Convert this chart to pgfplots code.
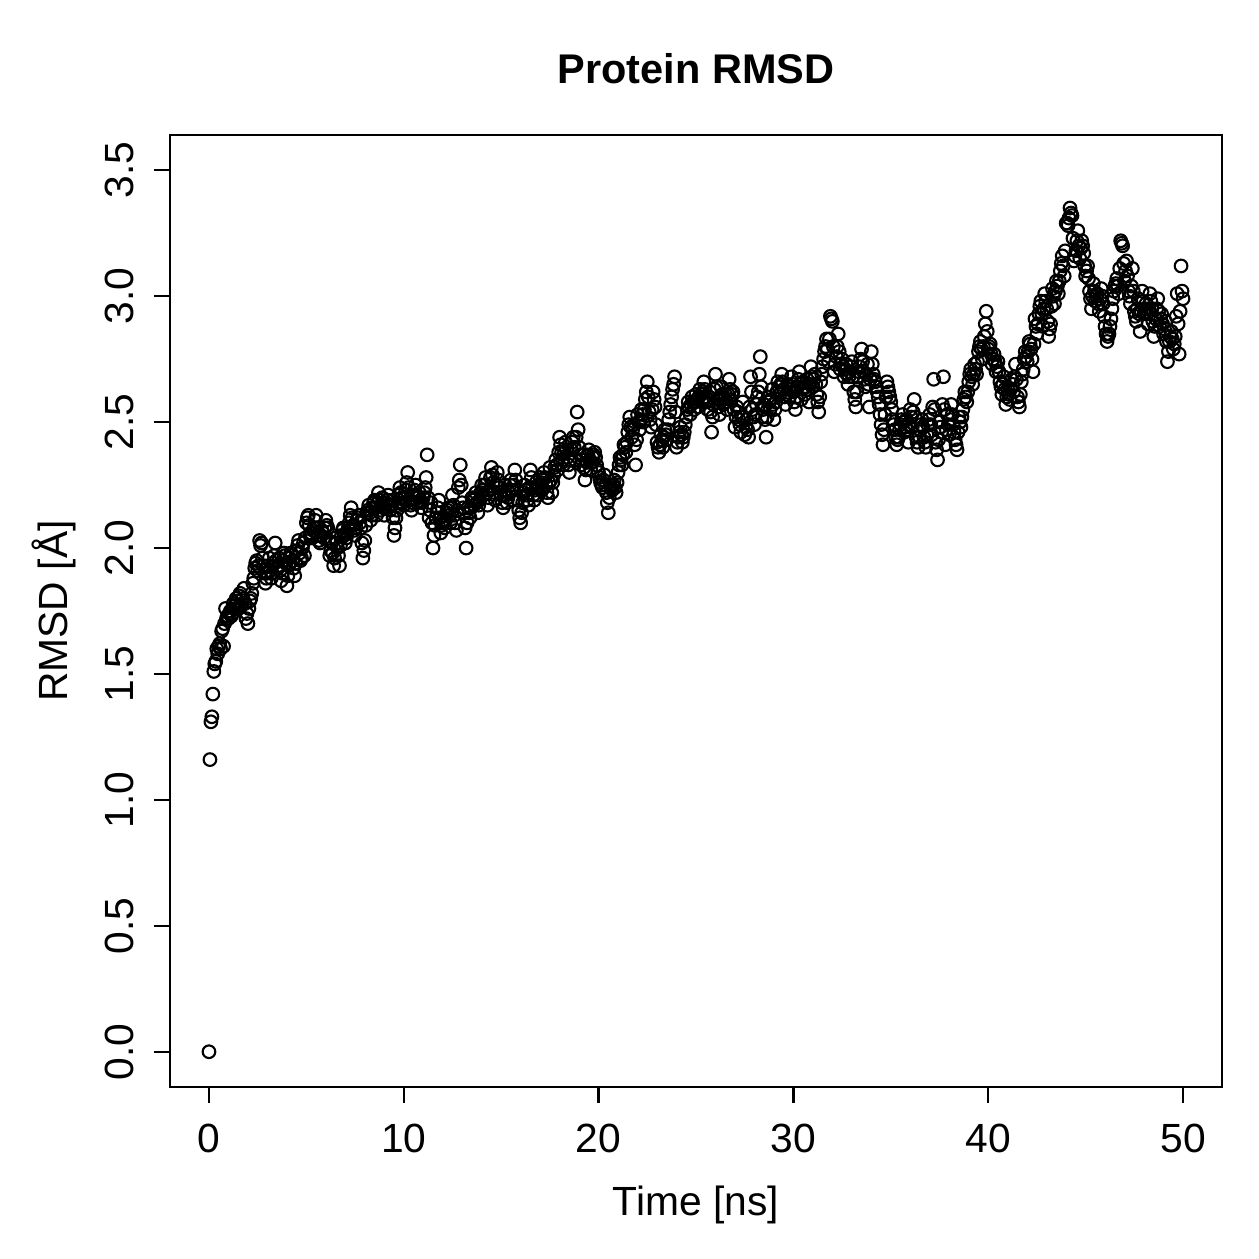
\documentclass[border=0pt]{standalone}
\usepackage{fontspec}
\setmainfont{Liberation Sans}
\usepackage{pgfplots}
\pgfplotsset{compat=1.18}
\begin{document}
\begin{tikzpicture}
\path (-17mm,-17.2mm) rectangle (108.9mm,108.7mm);
\begin{axis}[
  at={(0,0)}, anchor=south west, scale only axis,
  width=105.2mm, height=95.2mm,
  xmin=-2, xmax=52, ymin=-0.14, ymax=3.64,
  clip=false,
  xtick={0,10,20,30,40,50}, ytick={0,0.5,1,1.5,2,2.5,3,3.5},
  xtick pos=left, ytick pos=left,
  tick align=outside, major tick length=1.6mm,
  axis line style={black, line width=0.7pt},
  tick style={black, line width=0.7pt},
  font=\fontsize{11.6}{13}\selectfont,
  /pgf/number format/assume math mode=true,
  xticklabel style={anchor=base, yshift=-4.9mm},
  yticklabel style={xshift=-2.0mm, rotate=90, anchor=base, /pgf/number format/.cd, fixed, fixed zerofill, precision=1},
  title={Protein RMSD},
  title style={font=\fontsize{11.8}{14}\selectfont\bfseries, at={(axis description cs:0.5,1.0315)}, anchor=base},
  xlabel={Time [ns]},
  xlabel style={at={(axis description cs:0.5,-0.1345)}, anchor=base},
  ylabel={RMSD [Å]},
  ylabel style={at={(axis description cs:-0.097,0.5)}, anchor=base, rotate=0},
  tk/.style={black, line width=0.7pt, no markers, forget plot},
]
% tick marks drawn through the axis coordinates
\addplot[tk] coordinates {(0,-0.14) (0,-0.2035)};
\addplot[tk] coordinates {(10,-0.14) (10,-0.2035)};
\addplot[tk] coordinates {(20,-0.14) (20,-0.2035)};
\addplot[tk] coordinates {(30,-0.14) (30,-0.2035)};
\addplot[tk] coordinates {(40,-0.14) (40,-0.2035)};
\addplot[tk] coordinates {(50,-0.14) (50,-0.2035)};
\addplot[tk] coordinates {(-2,0) (-2.821,0)};
\addplot[tk] coordinates {(-2,0.5) (-2.821,0.5)};
\addplot[tk] coordinates {(-2,1) (-2.821,1)};
\addplot[tk] coordinates {(-2,1.5) (-2.821,1.5)};
\addplot[tk] coordinates {(-2,2) (-2.821,2)};
\addplot[tk] coordinates {(-2,2.5) (-2.821,2.5)};
\addplot[tk] coordinates {(-2,3) (-2.821,3)};
\addplot[tk] coordinates {(-2,3.5) (-2.821,3.5)};
\addplot[only marks, mark=o, mark size=1.8pt, mark options={line width=0.6pt, black}] coordinates {
(0,0) (0.05,1.16) (0.1,1.31) (0.15,1.33) (0.2,1.42) (0.25,1.51) (0.3,1.54) (0.35,1.55) (0.4,1.60) (0.45,1.58)
(0.5,1.61) (0.55,1.62) (0.6,1.60) (0.65,1.67) (0.7,1.68) (0.75,1.61) (0.8,1.70) (0.85,1.76) (0.9,1.72) (0.95,1.73)
(1.0,1.72) (1.1,1.75) (1.2,1.74) (1.3,1.77) (1.4,1.80) (1.5,1.76) (1.6,1.82) (1.7,1.78) (1.8,1.84) (1.9,1.72)
(2.0,1.70) (2.1,1.79) (2.2,1.82) (2.3,1.88) (2.4,1.94) (2.5,1.91) (2.6,2.03) (2.7,2.02) (2.8,1.93) (2.9,1.86)
(3.0,1.90) (3.1,1.96) (3.2,1.88) (3.3,1.94) (3.4,2.02) (3.5,1.92) (3.6,1.96) (3.7,1.87) (3.8,1.95) (3.9,1.97)
(4.0,1.85) (4.1,1.93) (4.2,1.98) (4.3,1.95) (4.4,1.89) (4.5,1.99) (4.6,2.03) (4.7,1.95) (4.8,2.00) (4.9,1.97)
(5.0,2.10) (5.1,2.13) (5.2,2.06) (5.3,2.04) (5.4,2.08) (5.5,2.13) (5.6,2.05) (5.7,2.02) (5.8,2.07) (5.9,2.04)
(6.0,2.11) (6.1,2.08) (6.2,1.97) (6.3,2.02) (6.4,1.93) (6.5,2.04) (6.6,2.00) (6.7,1.93) (6.8,2.05) (6.9,2.08)
(7.0,2.02) (7.1,2.06) (7.2,2.10) (7.3,2.16) (7.4,2.09) (7.5,2.05) (7.6,2.11) (7.7,2.13) (7.8,2.08) (7.9,1.96)
(8.0,2.03) (8.1,2.14) (8.2,2.17) (8.3,2.11) (8.4,2.16) (8.5,2.19) (8.6,2.13) (8.7,2.22) (8.8,2.15) (8.9,2.20)
(9.0,2.13) (9.1,2.18) (9.2,2.21) (9.3,2.15) (9.4,2.19) (9.5,2.05) (9.6,2.12) (9.7,2.18) (9.8,2.24) (9.9,2.20)
(10.0,2.17) (10.1,2.23) (10.2,2.30) (10.3,2.19) (10.4,2.15) (10.5,2.21) (10.6,2.25) (10.7,2.18) (10.8,2.22) (10.9,2.16)
(11.0,2.20) (11.1,2.24) (11.2,2.37) (11.3,2.12) (11.4,2.18) (11.5,2.00) (11.6,2.09) (11.7,2.14) (11.8,2.19) (11.9,2.06)
(12.0,2.11) (12.1,2.08) (12.2,2.14) (12.3,2.16) (12.4,2.10) (12.5,2.21) (12.6,2.13) (12.7,2.07) (12.8,2.24) (12.9,2.33)
(13.0,2.18) (13.1,2.14) (13.2,2.00) (13.3,2.16) (13.4,2.12) (13.5,2.20) (13.6,2.17) (13.7,2.22) (13.8,2.14) (13.9,2.19)
(14.0,2.25) (14.1,2.21) (14.2,2.28) (14.3,2.17) (14.4,2.23) (14.5,2.32) (14.6,2.26) (14.7,2.19) (14.8,2.30) (14.9,2.24)
(15.0,2.21) (15.1,2.16) (15.2,2.25) (15.3,2.18) (15.4,2.22) (15.5,2.27) (15.6,2.19) (15.7,2.31) (15.8,2.23) (15.9,2.15)
(16.0,2.10) (16.1,2.18) (16.2,2.25) (16.3,2.21) (16.4,2.17) (16.5,2.31) (16.6,2.24) (16.7,2.19) (16.8,2.26) (16.9,2.21)
(17.0,2.28) (17.1,2.23) (17.2,2.30) (17.3,2.25) (17.4,2.20) (17.5,2.32) (17.6,2.22) (17.7,2.29) (17.8,2.35) (17.9,2.31)
(18.0,2.44) (18.1,2.38) (18.2,2.33) (18.3,2.42) (18.4,2.36) (18.5,2.30) (18.6,2.39) (18.7,2.44) (18.8,2.35) (18.9,2.54)
(19.0,2.40) (19.1,2.33) (19.2,2.37) (19.3,2.27) (19.4,2.34) (19.5,2.39) (19.6,2.31) (19.7,2.36) (19.8,2.38) (19.9,2.33)
(20.0,2.30) (20.1,2.26) (20.2,2.24) (20.3,2.29) (20.4,2.22) (20.5,2.14) (20.6,2.25) (20.7,2.23) (20.8,2.27) (20.9,2.22)
(21.0,2.30) (21.1,2.36) (21.2,2.33) (21.3,2.41) (21.4,2.38) (21.5,2.46) (21.6,2.52) (21.7,2.44) (21.8,2.49) (21.9,2.33)
(22.0,2.53) (22.1,2.47) (22.2,2.55) (22.3,2.50) (22.4,2.59) (22.5,2.66) (22.6,2.54) (22.7,2.48) (22.8,2.62) (22.9,2.56)
(23.0,2.42) (23.1,2.38) (23.2,2.45) (23.3,2.40) (23.4,2.47) (23.5,2.43) (23.6,2.51) (23.7,2.57) (23.8,2.63) (23.9,2.68)
(24.0,2.40) (24.1,2.44) (24.2,2.48) (24.3,2.42) (24.4,2.46) (24.5,2.52) (24.6,2.58) (24.7,2.53) (24.8,2.60) (24.9,2.55)
(25.0,2.61) (25.1,2.56) (25.2,2.63) (25.3,2.58) (25.4,2.66) (25.5,2.60) (25.6,2.55) (25.7,2.62) (25.8,2.46) (25.9,2.57)
(26.0,2.69) (26.1,2.59) (26.2,2.53) (26.3,2.64) (26.4,2.57) (26.5,2.61) (26.6,2.55) (26.7,2.67) (26.8,2.59) (26.9,2.62)
(27.0,2.48) (27.1,2.56) (27.2,2.51) (27.3,2.46) (27.4,2.58) (27.5,2.45) (27.6,2.51) (27.7,2.44) (27.8,2.68) (27.9,2.55)
(28.0,2.49) (28.1,2.57) (28.2,2.62) (28.3,2.76) (28.4,2.52) (28.5,2.57) (28.6,2.44) (28.7,2.60) (28.8,2.55) (28.9,2.63)
(29.0,2.51) (29.1,2.58) (29.2,2.66) (29.3,2.61) (29.4,2.69) (29.5,2.63) (29.6,2.57) (29.7,2.65) (29.8,2.60) (29.9,2.68)
(30.0,2.62) (30.1,2.55) (30.2,2.64) (30.3,2.70) (30.4,2.59) (30.5,2.66) (30.6,2.61) (30.7,2.67) (30.8,2.58) (30.9,2.72)
(31.0,2.64) (31.1,2.69) (31.2,2.61) (31.3,2.54) (31.4,2.66) (31.5,2.72) (31.6,2.78) (31.7,2.83) (31.8,2.74) (31.9,2.92)
(32.0,2.90) (32.1,2.70) (32.2,2.76) (32.3,2.85) (32.4,2.71) (32.5,2.75) (32.6,2.68) (32.7,2.73) (32.8,2.65) (32.9,2.70)
(33.0,2.74) (33.1,2.62) (33.2,2.56) (33.3,2.68) (33.4,2.72) (33.5,2.79) (33.6,2.70) (33.7,2.64) (33.8,2.73) (33.9,2.56)
(34.0,2.78) (34.1,2.69) (34.2,2.66) (34.3,2.62) (34.4,2.57) (34.5,2.49) (34.6,2.41) (34.7,2.53) (34.8,2.66) (34.9,2.62)
(35.0,2.58) (35.1,2.51) (35.2,2.47) (35.3,2.41) (35.4,2.44) (35.5,2.49) (35.6,2.53) (35.7,2.46) (35.8,2.51) (35.9,2.42)
(36.0,2.55) (36.1,2.48) (36.2,2.59) (36.3,2.44) (36.4,2.40) (36.5,2.47) (36.6,2.51) (36.7,2.44) (36.8,2.40) (36.9,2.49)
(37.0,2.53) (37.1,2.45) (37.2,2.67) (37.3,2.42) (37.4,2.35) (37.5,2.50) (37.6,2.46) (37.7,2.68) (37.8,2.41) (37.9,2.53)
(38.0,2.45) (38.1,2.57) (38.2,2.49) (38.3,2.43) (38.4,2.39) (38.5,2.52) (38.6,2.48) (38.7,2.55) (38.8,2.62) (38.9,2.58)
(39.0,2.66) (39.1,2.71) (39.2,2.65) (39.3,2.73) (39.4,2.69) (39.5,2.78) (39.6,2.82) (39.7,2.75) (39.8,2.84) (39.9,2.94)
(40.0,2.79) (40.1,2.81) (40.2,2.73) (40.3,2.77) (40.4,2.70) (40.5,2.74) (40.6,2.66) (40.7,2.61) (40.8,2.68) (40.9,2.57)
(41.0,2.63) (41.1,2.59) (41.2,2.67) (41.3,2.62) (41.4,2.73) (41.5,2.60) (41.6,2.56) (41.7,2.66) (41.8,2.71) (41.9,2.78)
(42.0,2.74) (42.1,2.82) (42.2,2.79) (42.3,2.70) (42.4,2.91) (42.5,2.85) (42.6,2.93) (42.7,2.98) (42.8,2.88) (42.9,3.01)
(43.0,2.95) (43.1,2.84) (43.2,2.89) (43.3,3.03) (43.4,2.97) (43.5,3.06) (43.6,3.01) (43.7,3.10) (43.8,3.16) (43.9,3.08)
(44.0,3.29) (44.1,3.28) (44.2,3.35) (44.3,3.32) (44.4,3.14) (44.5,3.18) (44.6,3.26) (44.7,3.15) (44.8,3.22) (44.9,3.17)
(45.0,3.08) (45.1,3.12) (45.2,3.02) (45.3,2.95) (45.4,3.05) (45.5,2.98) (45.6,3.01) (45.7,2.94) (45.8,3.03) (45.9,2.97)
(46.0,2.88) (46.1,2.82) (46.2,2.85) (46.3,2.91) (46.4,2.99) (46.5,3.04) (46.6,3.07) (46.7,3.01) (46.8,3.22) (46.9,3.20)
(47.0,3.06) (47.1,3.14) (47.2,3.02) (47.3,2.97) (47.4,3.11) (47.5,2.94) (47.6,2.90) (47.7,2.99) (47.8,2.86) (47.9,3.02)
(48.0,2.93) (48.1,2.97) (48.2,2.89) (48.3,3.01) (48.4,2.95) (48.5,2.84) (48.6,2.91) (48.7,2.99) (48.8,2.88) (48.9,2.93)
(49.0,2.85) (49.1,2.90) (49.2,2.74) (49.3,2.82) (49.4,2.86) (49.5,2.79) (49.6,2.84) (49.7,3.01) (49.8,2.77) (49.9,3.12)
(50.0,2.99)
};
\addplot[only marks, mark=o, mark size=1.8pt, mark options={line width=0.6pt, black}] coordinates {
(1.05,1.74) (1.15,1.73) (1.25,1.78) (1.35,1.76) (1.45,1.79) (1.55,1.81) (1.65,1.77) (1.75,1.80) (1.85,1.78) (1.95,1.74)
(2.05,1.76) (2.15,1.80) (2.25,1.86) (2.35,1.92) (2.45,1.95) (2.55,1.93) (2.65,2.01) (2.75,1.96) (2.85,1.90) (2.95,1.88)
(3.05,1.93) (3.15,1.91) (3.25,1.90) (3.35,1.97) (3.45,1.95) (3.55,1.93) (3.65,1.91) (3.75,1.90) (3.85,1.98) (3.95,1.94)
(4.05,1.89) (4.15,1.96) (4.25,1.97) (4.35,1.92) (4.45,1.94) (4.55,2.01) (4.65,1.98) (4.75,1.96) (4.85,2.02) (4.95,2.04)
(5.05,2.12) (5.15,2.09) (5.25,2.05) (5.35,2.07) (5.45,2.11) (5.55,2.08) (5.65,2.03) (5.75,2.05) (5.85,2.06) (5.95,2.08)
(6.05,2.09) (6.15,2.03) (6.25,1.99) (6.35,1.98) (6.45,1.96) (6.55,2.02) (6.65,1.97) (6.75,2.01) (6.85,2.07) (6.95,2.05)
(7.05,2.04) (7.15,2.08) (7.25,2.13) (7.35,2.12) (7.45,2.07) (7.55,2.08) (7.65,2.12) (7.75,2.10) (7.85,2.02) (7.95,1.99)
(8.05,2.09) (8.15,2.15) (8.25,2.14) (8.35,2.13) (8.45,2.18) (8.55,2.16) (8.65,2.18) (8.75,2.19) (8.85,2.17) (8.95,2.16)
(9.05,2.16) (9.15,2.19) (9.25,2.17) (9.35,2.17) (9.45,2.12) (9.55,2.08) (9.65,2.15) (9.75,2.21) (9.85,2.22) (9.95,2.18)
(10.05,2.20) (10.15,2.26) (10.25,2.24) (10.35,2.17) (10.45,2.18) (10.55,2.23) (10.65,2.21) (10.75,2.20) (10.85,2.19) (10.95,2.18)
(11.05,2.22) (11.15,2.28) (11.25,2.20) (11.35,2.15) (11.45,2.10) (11.55,2.05) (11.65,2.12) (11.75,2.16) (11.85,2.12) (11.95,2.09)
(12.05,2.10) (12.15,2.11) (12.25,2.15) (12.35,2.13) (12.45,2.16) (12.55,2.17) (12.65,2.10) (12.75,2.15) (12.85,2.27) (12.95,2.25)
(13.05,2.16) (13.15,2.08) (13.25,2.10) (13.35,2.14) (13.45,2.16) (13.55,2.19) (13.65,2.20) (13.75,2.18) (13.85,2.17) (13.95,2.22)
(14.05,2.23) (14.15,2.25) (14.25,2.22) (14.35,2.20) (14.45,2.28) (14.55,2.29) (14.65,2.22) (14.75,2.25) (14.85,2.27) (14.95,2.22)
(15.05,2.18) (15.15,2.21) (15.25,2.21) (15.35,2.20) (15.45,2.25) (15.55,2.23) (15.65,2.25) (15.75,2.27) (15.85,2.19) (15.95,2.12)
(16.05,2.14) (16.15,2.22) (16.25,2.23) (16.35,2.19) (16.45,2.24) (16.55,2.28) (16.65,2.21) (16.75,2.23) (16.85,2.24) (16.95,2.25)
(17.05,2.26) (17.15,2.27) (17.25,2.28) (17.35,2.22) (17.45,2.26) (17.55,2.27) (17.65,2.26) (17.75,2.32) (17.85,2.33) (17.95,2.38)
(18.05,2.41) (18.15,2.35) (18.25,2.38) (18.35,2.39) (18.45,2.33) (18.55,2.35) (18.65,2.42) (18.75,2.40) (18.85,2.44) (18.95,2.47)
(19.05,2.37) (19.15,2.35) (19.25,2.32) (19.35,2.31) (19.45,2.37) (19.55,2.35) (19.65,2.34) (19.75,2.37) (19.85,2.36) (19.95,2.31)
(20.05,2.28) (20.15,2.25) (20.25,2.27) (20.35,2.25) (20.45,2.18) (20.55,2.20) (20.65,2.24) (20.75,2.25) (20.85,2.24) (20.95,2.26)
(21.05,2.33) (21.15,2.35) (21.25,2.37) (21.35,2.40) (21.45,2.42) (21.55,2.49) (21.65,2.48) (21.75,2.47) (21.85,2.41) (21.95,2.43)
(22.05,2.50) (22.15,2.51) (22.25,2.53) (22.35,2.55) (22.45,2.62) (22.55,2.60) (22.65,2.51) (22.75,2.55) (22.85,2.59) (22.95,2.49)
(23.05,2.40) (23.15,2.41) (23.25,2.43) (23.35,2.44) (23.45,2.45) (23.55,2.47) (23.65,2.54) (23.75,2.60) (23.85,2.65) (23.95,2.54)
(24.05,2.42) (24.15,2.46) (24.25,2.45) (24.35,2.44) (24.45,2.49) (24.55,2.55) (24.65,2.56) (24.75,2.57) (24.85,2.58) (24.95,2.58)
(25.05,2.59) (25.15,2.60) (25.25,2.61) (25.35,2.62) (25.45,2.63) (25.55,2.58) (25.65,2.59) (25.75,2.54) (25.85,2.52) (25.95,2.63)
(26.05,2.64) (26.15,2.56) (26.25,2.59) (26.35,2.61) (26.45,2.59) (26.55,2.58) (26.65,2.61) (26.75,2.63) (26.85,2.61) (26.95,2.55)
(27.05,2.52) (27.15,2.54) (27.25,2.49) (27.35,2.52) (27.45,2.52) (27.55,2.48) (27.65,2.47) (27.75,2.56) (27.85,2.62) (27.95,2.52)
(28.05,2.53) (28.15,2.60) (28.25,2.69) (28.35,2.64) (28.45,2.55) (28.55,2.51) (28.65,2.52) (28.75,2.58) (28.85,2.59) (28.95,2.57)
(29.05,2.55) (29.15,2.62) (29.25,2.64) (29.35,2.65) (29.45,2.66) (29.55,2.60) (29.65,2.61) (29.75,2.63) (29.85,2.64) (29.95,2.65)
(30.05,2.58) (30.15,2.60) (30.25,2.67) (30.35,2.65) (30.45,2.63) (30.55,2.64) (30.65,2.64) (30.75,2.63) (30.85,2.65) (30.95,2.68)
(31.05,2.67) (31.15,2.65) (31.25,2.58) (31.35,2.60) (31.45,2.69) (31.55,2.75) (31.65,2.80) (31.75,2.79) (31.85,2.83) (31.95,2.91)
(32.05,2.80) (32.15,2.73) (32.25,2.80) (32.35,2.78) (32.45,2.73) (32.55,2.72) (32.65,2.71) (32.75,2.69) (32.85,2.68) (32.95,2.72)
(33.05,2.68) (33.15,2.59) (33.25,2.62) (33.35,2.70) (33.45,2.75) (33.55,2.74) (33.65,2.67) (33.75,2.69) (33.85,2.65) (33.95,2.67)
(34.05,2.73) (34.15,2.67) (34.25,2.64) (34.35,2.60) (34.45,2.53) (34.55,2.45) (34.65,2.47) (34.75,2.60) (34.85,2.64) (34.95,2.60)
(35.05,2.55) (35.15,2.49) (35.25,2.44) (35.35,2.43) (35.45,2.47) (35.55,2.51) (35.65,2.50) (35.75,2.48) (35.85,2.47) (35.95,2.49)
(36.05,2.52) (36.15,2.54) (36.25,2.52) (36.35,2.42) (36.45,2.44) (36.55,2.49) (36.65,2.48) (36.75,2.42) (36.85,2.45) (36.95,2.51)
(37.05,2.49) (37.15,2.56) (37.25,2.55) (37.35,2.39) (37.45,2.43) (37.55,2.48) (37.65,2.57) (37.75,2.55) (37.85,2.47) (37.95,2.49)
(38.05,2.51) (38.15,2.53) (38.25,2.46) (38.35,2.41) (38.45,2.46) (38.55,2.50) (38.65,2.52) (38.75,2.59) (38.85,2.60) (38.95,2.62)
(39.05,2.69) (39.15,2.68) (39.25,2.69) (39.35,2.71) (39.45,2.74) (39.55,2.80) (39.65,2.79) (39.75,2.80) (39.85,2.89) (39.95,2.86)
(40.05,2.80) (40.15,2.77) (40.25,2.75) (40.35,2.74) (40.45,2.72) (40.55,2.70) (40.65,2.64) (40.75,2.65) (40.85,2.63) (40.95,2.60)
(41.05,2.61) (41.15,2.63) (41.25,2.65) (41.35,2.68) (41.45,2.67) (41.55,2.58) (41.65,2.61) (41.75,2.69) (41.85,2.75) (41.95,2.76)
(42.05,2.78) (42.15,2.81) (42.25,2.75) (42.35,2.81) (42.45,2.88) (42.55,2.89) (42.65,2.96) (42.75,2.93) (42.85,2.95) (42.95,2.98)
(43.05,2.90) (43.15,2.87) (43.25,2.96) (43.35,3.00) (43.45,3.02) (43.55,3.04) (43.65,3.06) (43.75,3.13) (43.85,3.12) (43.95,3.18)
(44.05,3.29) (44.15,3.31) (44.25,3.33) (44.35,3.23) (44.45,3.16) (44.55,3.22) (44.65,3.20) (44.75,3.19) (44.85,3.20) (44.95,3.12)
(45.05,3.10) (45.15,3.07) (45.25,2.99) (45.35,3.00) (45.45,3.02) (45.55,3.00) (45.65,2.97) (45.75,2.99) (45.85,3.00) (45.95,2.92)
(46.05,2.85) (46.15,2.84) (46.25,2.88) (46.35,2.95) (46.45,3.02) (46.55,3.05) (46.65,3.04) (46.75,3.11) (46.85,3.21) (46.95,3.13)
(47.05,3.10) (47.15,3.08) (47.25,3.00) (47.35,3.04) (47.45,3.02) (47.55,2.92) (47.65,2.95) (47.75,2.93) (47.85,2.94) (47.95,2.98)
(48.05,2.95) (48.15,2.93) (48.25,2.95) (48.35,2.98) (48.45,2.90) (48.55,2.88) (48.65,2.95) (48.75,2.94) (48.85,2.91) (48.95,2.89)
(49.05,2.87) (49.15,2.82) (49.25,2.78) (49.35,2.84) (49.45,2.83) (49.55,2.81) (49.65,2.92) (49.75,2.89) (49.85,2.94) (49.95,3.02)
};
\end{axis}
\end{tikzpicture}
\end{document}
